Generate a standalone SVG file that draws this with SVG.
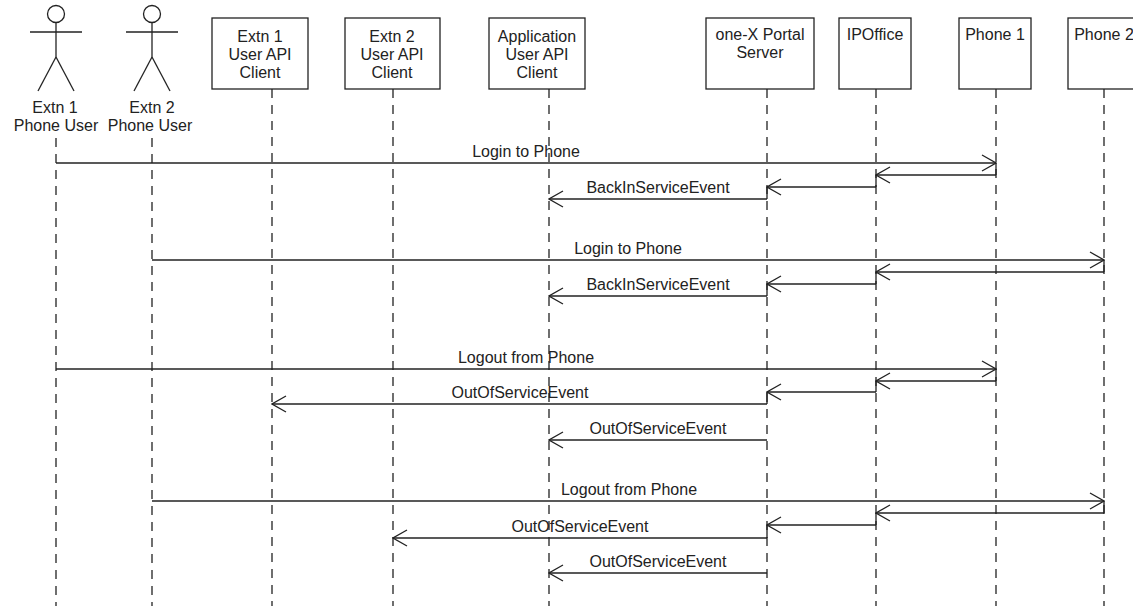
<svg xmlns="http://www.w3.org/2000/svg" width="1133" height="606" viewBox="0 0 1133 606">
<defs>
<style>
.bg{fill:#ffffff}
.box{fill:#ffffff;stroke:#222;stroke-width:1.3}
.actor{fill:none;stroke:#222;stroke-width:1.3}
.life{stroke:#222;stroke-width:1.3;stroke-dasharray:9 7;fill:none}
.msg{stroke:#222;stroke-width:1.3;fill:none}
.exec{stroke:#222;stroke-width:1.3;fill:none}
text{font-family:"Liberation Sans",Arial,sans-serif;font-size:16px;fill:#222;text-anchor:middle}
</style>
<marker id="open" viewBox="0 0 16 20" refX="15" refY="10" markerWidth="16" markerHeight="20" markerUnits="userSpaceOnUse" orient="auto">
<path d="M1,2 L15,10 L1,18" fill="none" stroke="#222" stroke-width="1.3"/>
</marker>
</defs>
<rect class="bg" x="0" y="0" width="1133" height="606"/>

<g id="lifelines">
<line class="life" x1="56" y1="138" x2="56" y2="606"/>
<line class="life" x1="152" y1="138" x2="152" y2="606"/>
<line class="life" x1="272" y1="89" x2="272" y2="606"/>
<line class="life" x1="393" y1="89" x2="393" y2="606"/>
<line class="life" x1="549" y1="89" x2="549" y2="606"/>
<line class="life" x1="767" y1="89" x2="767" y2="606"/>
<line class="life" x1="876" y1="89" x2="876" y2="606"/>
<line class="life" x1="996" y1="89" x2="996" y2="606"/>
<line class="life" x1="1104" y1="89" x2="1104" y2="606"/>
</g>

<g id="extn1-phone-user">
<circle class="actor" cx="56" cy="14" r="8.5"/>
<line class="actor" x1="30" y1="32" x2="82" y2="32"/>
<line class="actor" x1="56" y1="22.5" x2="56" y2="57"/>
<line class="actor" x1="56" y1="57" x2="38" y2="91"/>
<line class="actor" x1="56" y1="57" x2="74" y2="91"/>
<text x="55" y="113">Extn 1</text>
<text x="56" y="131">Phone User</text>
</g>

<g id="extn2-phone-user">
<circle class="actor" cx="152" cy="14" r="8.5"/>
<line class="actor" x1="126" y1="32" x2="178" y2="32"/>
<line class="actor" x1="152" y1="22.5" x2="152" y2="57"/>
<line class="actor" x1="152" y1="57" x2="134" y2="91"/>
<line class="actor" x1="152" y1="57" x2="170" y2="91"/>
<text x="152" y="113">Extn 2</text>
<text x="150" y="131">Phone User</text>
</g>

<g id="extn1-api-client">
<rect class="box" x="212" y="18" width="96" height="71"/>
<text x="260" y="42">Extn 1</text>
<text x="260" y="60">User API</text>
<text x="260" y="78">Client</text>
</g>

<g id="extn2-api-client">
<rect class="box" x="345" y="18" width="95" height="71"/>
<text x="392" y="42">Extn 2</text>
<text x="392" y="60">User API</text>
<text x="392" y="78">Client</text>
</g>

<g id="application-api-client">
<rect class="box" x="489" y="18" width="96" height="71"/>
<text x="537" y="42">Application</text>
<text x="537" y="60">User API</text>
<text x="537" y="78">Client</text>
</g>

<g id="onex-portal-server">
<rect class="box" x="706" y="18" width="108" height="71"/>
<text x="760" y="40">one-X Portal</text>
<text x="760" y="58">Server</text>
</g>

<g id="ipoffice">
<rect class="box" x="839" y="18" width="72" height="71"/>
<text x="875" y="40">IPOffice</text>
</g>

<g id="phone1">
<rect class="box" x="959" y="18" width="72" height="71"/>
<text x="995" y="40">Phone 1</text>
</g>

<g id="phone2">
<rect class="box" x="1068" y="18" width="72" height="71"/>
<text x="1104" y="40">Phone 2</text>
</g>

<g id="connectors">
<!-- execution ties -->
<path class="exec" d="M996,163V175 M876,175V187 M767,187V199"/>
<path class="exec" d="M1104,260V272 M876,272V284 M767,284V296"/>
<path class="exec" d="M996,369V381 M876,381V392 M767,392V404"/>
<path class="exec" d="M1104,501V513 M876,513V525 M767,525V538"/>

<line class="msg" x1="56" y1="163" x2="996" y2="163" marker-end="url(#open)"/>
<text x="526" y="157">Login to Phone</text>
<line class="msg" x1="996" y1="175" x2="876" y2="175" marker-end="url(#open)"/>
<line class="msg" x1="876" y1="187" x2="767" y2="187" marker-end="url(#open)"/>
<line class="msg" x1="767" y1="199" x2="549" y2="199" marker-end="url(#open)"/>
<text x="658" y="193">BackInServiceEvent</text>

<line class="msg" x1="152" y1="260" x2="1104" y2="260" marker-end="url(#open)"/>
<text x="628" y="254">Login to Phone</text>
<line class="msg" x1="1104" y1="272" x2="876" y2="272" marker-end="url(#open)"/>
<line class="msg" x1="876" y1="284" x2="767" y2="284" marker-end="url(#open)"/>
<line class="msg" x1="767" y1="296" x2="549" y2="296" marker-end="url(#open)"/>
<text x="658" y="290">BackInServiceEvent</text>

<line class="msg" x1="56" y1="369" x2="996" y2="369" marker-end="url(#open)"/>
<text x="526" y="363">Logout from Phone</text>
<line class="msg" x1="996" y1="381" x2="876" y2="381" marker-end="url(#open)"/>
<line class="msg" x1="876" y1="392" x2="767" y2="392" marker-end="url(#open)"/>
<line class="msg" x1="767" y1="404" x2="272" y2="404" marker-end="url(#open)"/>
<text x="520" y="398">OutOfServiceEvent</text>
<line class="msg" x1="767" y1="440" x2="549" y2="440" marker-end="url(#open)"/>
<text x="658" y="434">OutOfServiceEvent</text>

<line class="msg" x1="152" y1="501" x2="1104" y2="501" marker-end="url(#open)"/>
<text x="629" y="495">Logout from Phone</text>
<line class="msg" x1="1104" y1="513" x2="876" y2="513" marker-end="url(#open)"/>
<line class="msg" x1="876" y1="525" x2="767" y2="525" marker-end="url(#open)"/>
<line class="msg" x1="767" y1="538" x2="393" y2="538" marker-end="url(#open)"/>
<text x="580" y="532">OutOfServiceEvent</text>
<line class="msg" x1="767" y1="573" x2="549" y2="573" marker-end="url(#open)"/>
<text x="658" y="567">OutOfServiceEvent</text>
</g>
</svg>
